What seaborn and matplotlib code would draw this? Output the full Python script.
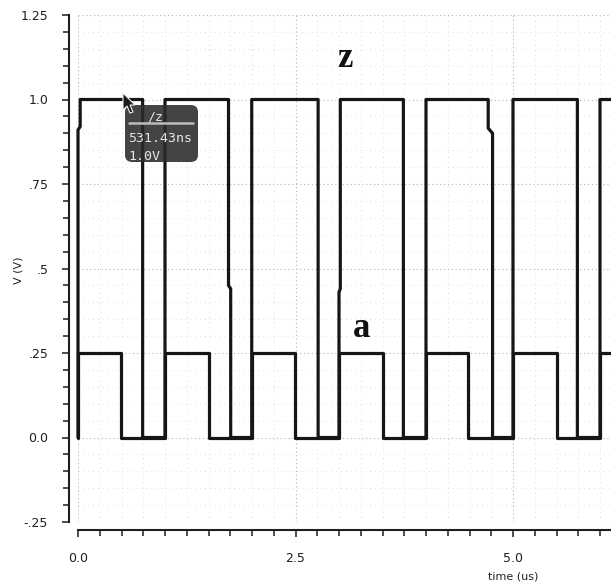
import matplotlib
matplotlib.use("Agg")
import matplotlib.pyplot as plt
import seaborn as sns
from matplotlib.patches import FancyBboxPatch, Polygon
from matplotlib.lines import Line2D
from matplotlib.ticker import MultipleLocator

# waveform samples (time in us, voltage in V)
z_time = [0.0, 0.0, 0.025, 0.025, 0.743, 0.743, 1.0, 1.0, 1.73, 1.73, 1.755,
          1.755, 1.997, 1.997, 2.76, 2.76, 3.0, 3.0, 3.015, 3.015, 3.74,
          3.74, 4.0, 4.0, 4.715, 4.715, 4.765, 4.765, 5.0, 5.0, 5.74, 5.74,
          6.0, 6.0, 6.13]
z_volt = [0.0, 0.91, 0.92, 1.0, 1.0, 0.0, 0.0, 1.0, 1.0, 0.45, 0.44,
          0.0, 0.0, 1.0, 1.0, 0.0, 0.0, 0.43, 0.44, 1.0, 1.0,
          0.0, 0.0, 1.0, 1.0, 0.915, 0.9, 0.0, 0.0, 1.0, 1.0, 0.0,
          0.0, 1.0, 1.0]

a_time = [0.0, 0.0, 0.49, 0.49, 1.0, 1.0, 1.5, 1.5, 2.0, 2.0, 2.49, 2.49,
          3.0, 3.0, 3.5, 3.5, 4.0, 4.0, 4.48, 4.48, 5.0, 5.0, 5.5, 5.5,
          6.0, 6.0, 6.13]
a_volt = [0.0, 0.25, 0.25, 0.0, 0.0, 0.25, 0.25, 0.0, 0.0, 0.25, 0.25, 0.0,
          0.0, 0.25, 0.25, 0.0, 0.0, 0.25, 0.25, 0.0, 0.0, 0.25, 0.25, 0.0,
          0.0, 0.25, 0.25]

ytick_vals = [-0.25, 0.0, 0.25, 0.5, 0.75, 1.0, 1.25]
ytick_text = ["-.25", "0.0", ".25", ".5", ".75", "1.0", "1.25"]
xtick_vals = [0.0, 2.5, 5.0]
xtick_text = ["0.0", "2.5", "5.0"]

# cursor readout
cursor_name = "/z"
cursor_time = "531.43ns"
cursor_val = "1.0V"

sns.set_style("ticks")
plt.rcParams["font.family"] = ["DejaVu Sans"]

W, H = 611, 588
fig = plt.figure(figsize=(W / 100, H / 100), dpi=100)
ax = fig.add_axes([78 / W, 66 / H, 533 / W, 507 / H])


def px(x, y):
    """pixel position (top-left origin) -> figure fraction"""
    return x / W, 1 - y / H


line_kw = dict(color="#161616", linewidth=2.3, estimator=None, sort=False,
               legend=False, clip_on=False, solid_joinstyle="round")
sns.lineplot(x=a_time, y=a_volt, ax=ax, **line_kw)
sns.lineplot(x=z_time, y=z_volt, ax=ax, **line_kw)

ax.set_xlim(0, 533 / 87)
ax.set_ylim(-0.25, 1.25)

ax.set_yticks(ytick_vals, labels=ytick_text)
ax.set_xticks(xtick_vals, labels=xtick_text)
ax.xaxis.set_minor_locator(MultipleLocator(0.25))
ax.yaxis.set_minor_locator(MultipleLocator(0.05))

ax.grid(which="major", linestyle=(0, (1, 2.5)), color="#b4b4b4", linewidth=0.8)
ax.grid(which="minor", linestyle=(0, (1, 4)), color="#dedede", linewidth=0.7)
ax.set_axisbelow(True)

sns.despine(ax=ax)
ax.spines["left"].set_position(("outward", 6.5))
ax.spines["bottom"].set_position(("outward", 5.8))
ax.spines["left"].set_bounds(-0.25, 1.25)
ax.spines["bottom"].set_bounds(0, 533 / 87)
for s in ("left", "bottom"):
    ax.spines[s].set_linewidth(1.5)
    ax.spines[s].set_color("#1e1e1e")

ax.tick_params(which="major", length=5, width=1.1, color="#1e1e1e",
               labelsize=9, labelcolor="#1e1e1e")
ax.tick_params(which="minor", length=4, width=1.1, color="#1e1e1e")
ax.tick_params(axis="y", which="major", pad=10)
ax.tick_params(axis="x", which="major", pad=11)

ax.set_ylabel("V (V)", fontsize=8, color="#222222")
ax.yaxis.set_label_coords(-0.102, 0.497)
ax.set_xlabel("time (us)", fontsize=8, color="#222222")
ax.xaxis.set_label_coords(0.816, -0.097)

# signal names
ax.text(3.07, 1.096, "z", ha="center", va="baseline", fontsize=25,
        fontweight="bold", family="Liberation Serif", color="#111111")
ax.text(3.26, 0.297, "a", ha="center", va="baseline", fontsize=25,
        fontweight="bold", family="Liberation Serif", color="#111111")

# cursor tooltip
x0, y0 = px(125, 162)
x1, y1 = px(198, 105)
box = FancyBboxPatch((x0, y0), x1 - x0, y1 - y0, transform=fig.transFigure,
                     boxstyle="round,pad=0,rounding_size=0.012",
                     facecolor="#2a2a2a", edgecolor="none", alpha=0.88, zorder=5)
fig.patches.append(box)
mono = dict(family="DejaVu Sans Mono", fontsize=9.5, color="#e6e6e6",
            transform=fig.transFigure, zorder=6)
fig.text(*px(155, 117), cursor_name, ha="center", va="center", **mono)
lx0, ly = px(129, 123)
lx1, _ = px(193, 123)
fig.lines.append(Line2D([lx0, lx1], [ly, ly], transform=fig.transFigure,
                        color="#bdbdbd", linewidth=1.8, zorder=6))
fig.text(*px(128, 139), cursor_time, ha="left", va="center", **mono)
fig.text(*px(128, 157), cursor_val, ha="left", va="center", **mono)

# mouse pointer
tip = (123, 93)
shape = [(0, 0), (0, 17), (4, 13), (7, 20), (10, 19), (7, 12), (12, 12)]
pts = [px(tip[0] + dx, tip[1] + dy) for dx, dy in shape]
fig.patches.append(Polygon(pts, closed=True, transform=fig.transFigure,
                           facecolor="#1a1a1a", edgecolor="#f0f0f0",
                           linewidth=0.8, zorder=7))

fig.savefig("out.png", dpi=100)
plt.close(fig)
